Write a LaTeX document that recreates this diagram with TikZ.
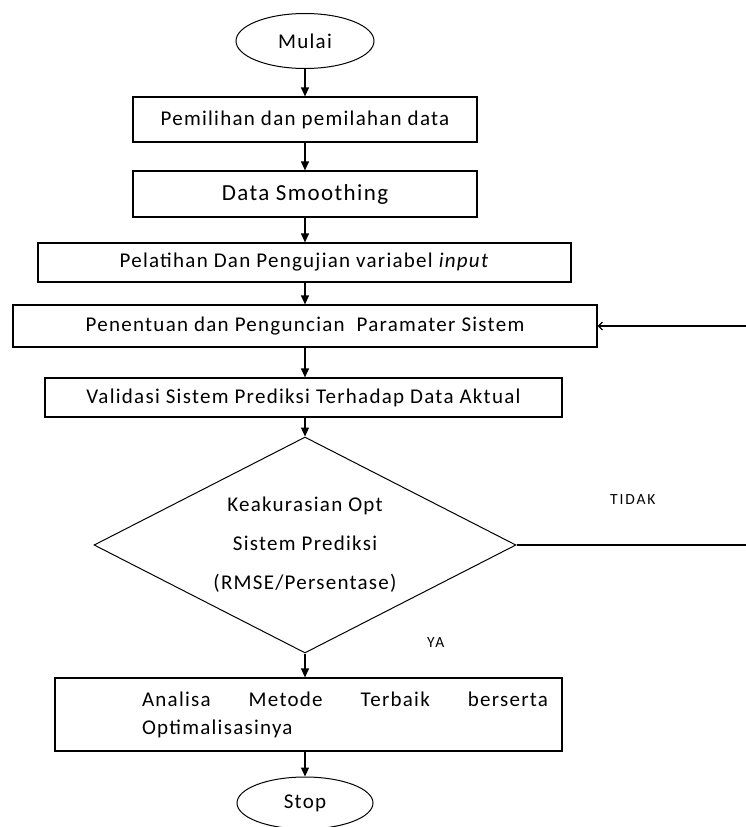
\documentclass[tikz,border=0pt]{standalone}
\usepackage{fontspec}
\setmainfont{Carlito}[LetterSpace=6]
\newfontfamily\labelfont{Carlito}[LetterSpace=12]
\usetikzlibrary{shapes.geometric, arrows.meta}

\begin{document}
\begin{tikzpicture}[x = 1pt, y = -1pt,
    box/.style = {draw, line width = 1.2pt, inner sep = 0pt, font = \fontsize{21}{25}\selectfont},
    terminal/.style = {draw, ellipse, line width = 1pt, inner sep = 0pt, font = \fontsize{21}{25}\selectfont},
    decision/.style = {draw, diamond, aspect = 2, line width = 1pt, inner sep = 0pt, align = center, font = \fontsize{21}{25}\selectfont},
    lbl/.style = {anchor = west, inner sep = 0pt, font = \labelfont\fontsize{15.5}{18}\selectfont},
    flow/.style = {line width = 1.2pt, -{Triangle[width = 8pt, length = 9pt]}}]
  \useasboundingbox (0, 0) rectangle (746, 827);

  \node[terminal, minimum width = 138pt, minimum height = 55pt] (mulai) at (305, 41) {Mulai};
  \node[box, minimum width = 344pt, minimum height = 45pt] (pilih) at (305, 119.5) {Pemilihan dan pemilahan data};
  \node[box, minimum width = 344pt, minimum height = 46pt, font = \fontsize{23}{27}\selectfont] (smooth) at (305, 194) {Data Smoothing};
  \node[box, minimum width = 533pt, minimum height = 39pt] (latih) at (304.5, 262.5) {Pelatihan Dan Pengujian variabel \textit{input}};
  \node[box, minimum width = 584pt, minimum height = 42pt] (param) at (305, 326) {Penentuan dan Penguncian\ \ Paramater Sistem};
  \node[box, minimum width = 517pt, minimum height = 39pt] (valid) at (303.5, 397.5) {Validasi Sistem Prediksi Terhadap Data\ Aktual};
  \node[decision, minimum width = 422pt, minimum height = 216pt] (akurasi) at (305, 545)
    {Keakurasian Opt\\[14pt] Sistem Prediksi\\[14pt] (RMSE/Persentase)};
  \node[box, minimum width = 507pt, minimum height = 73pt] (analisa) at (308.5, 714.5)
    {\hspace*{87pt}\parbox{406pt}{Analisa\hfill Metode\hfill Terbaik\hfill berserta\\[3pt]Optimalisasinya}\hspace*{14pt}};
  \node[terminal, minimum width = 136pt, minimum height = 52pt] (stop) at (305, 803) {Stop};

  \node[lbl] (tidak) at (610, 500) {TIDAK};
  \node[lbl] (ya) at (427, 643) {YA};

  % alur utama
  \draw[flow] (mulai) -- (pilih);
  \draw[flow] (pilih) -- (smooth);
  \draw[flow] (smooth) -- (smooth |- latih.north);
  \draw[flow] (smooth |- latih.south) -- (param);
  \draw[flow] (param) -- (param |- valid.north);
  \draw[flow] (param |- valid.south) -- (akurasi);
  \draw[flow] (akurasi) -- (akurasi |- analisa.north);
  \draw[flow] (stop |- analisa.south) -- (stop);

  % kembali ke penentuan parameter
  \coordinate (balik) at (760, 545);
  \draw[line width = 1.2pt, -{Straight Barb[width = 8pt, length = 4pt]}] (akurasi.east) -- (balik) |- (param.east);
\end{tikzpicture}
\end{document}
